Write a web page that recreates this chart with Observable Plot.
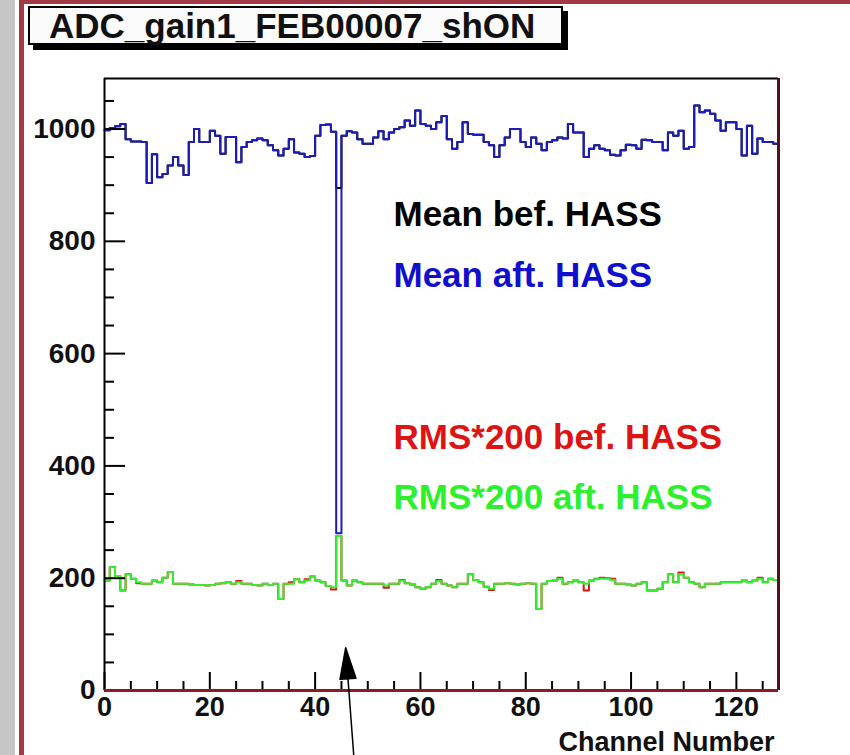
<!DOCTYPE html>
<html><head><meta charset="utf-8">
<script src="https://cdn.jsdelivr.net/npm/d3@7"></script>
<script src="https://cdn.jsdelivr.net/npm/@observablehq/plot@0.6"></script>
<style>
html,body{margin:0;padding:0;background:#fff;}
body{width:850px;height:755px;overflow:hidden;position:relative;font-family:"Liberation Sans",Arial,Helvetica,sans-serif;}
#strip{position:absolute;left:0;top:0;width:15px;height:755px;background:#c6c6c6;}
#vline{position:absolute;left:19px;top:0;width:5px;height:755px;background:#a23a46;}
#hline{position:absolute;left:19px;top:0;width:831px;height:4px;background:#a23a46;}
#chart{position:absolute;left:0;top:0;}
#title{position:absolute;left:28px;top:6px;width:535px;height:39px;box-sizing:border-box;border:2px solid #000;box-shadow:5px 5px 0 #000;background:#fbfbfb;font-weight:bold;font-size:35px;line-height:35px;padding-left:19px;color:#111;white-space:nowrap;}
</style>
</head>
<body>
<div id="strip"></div>
<div id="vline"></div>
<div id="hline"></div>
<div id="chart"></div>
<div id="title"></div>
<script>
const titleText = "ADC_gain1_FEB00007_shON";
const xAxisLabel = "Channel Number";
const xDomain = [0, 128];
const yDomain = [0, 1090];
const xTickLabels = [0, 20, 40, 60, 80, 100, 120];
const xMinorTicks = [5,10,15,25,30,35,45,50,55,65,70,75,85,90,95,105,110,115,125];
const yTickLabels = [0, 200, 400, 600, 800, 1000];
const yMinorTicks = [50,100,150,250,300,350,450,500,550,650,700,750,850,900,950,1050];
const legendLabels = ["Mean bef. HASS", "Mean aft. HASS", "RMS*200 bef. HASS", "RMS*200 aft. HASS"];
const legendColors = ["#000000", "#1010cc", "#dd1414", "#2cf02c"];
const lineColors = ["#000000", "#1c1cb8", "#dd1414", "#33ee33"];
// annotation arrow pointing at the bad channel (tip position, in data units)
const arrowTipChannel = [45.8];
const arrowTipValue = [76];

// Mean before HASS (per channel, 128 channels)
const meanBef = [998,1002,1005,1009,982,978,978,977,904,955,
914,920,935,950,935,918,977,1000,977,977,
997,988,956,986,986,941,968,977,980,983,
980,971,962,953,965,982,958,956,950,952,
988,1007,1008,995,895,988,996,994,982,974,
974,985,996,982,994,1000,1003,1015,1006,1033,
1009,1006,1000,1012,1023,982,965,977,1012,991,
990,990,977,971,950,971,985,1000,1000,977,
968,985,974,962,977,980,985,983,1009,994,
994,950,965,971,965,962,954,953,962,972,
971,965,981,980,977,977,962,994,988,997,
965,968,1042,1030,1033,1027,1015,997,1012,1012,
1000,953,1006,956,983,977,977,974];

// Mean after HASS
const meanAft = [998,1002,1005,1009,982,978,978,977,904,955,
914,920,935,950,935,918,977,1000,977,977,
997,988,956,986,986,941,968,977,980,983,
980,971,962,953,965,982,958,956,950,952,
988,1007,1008,995,280,988,996,994,982,974,
974,985,996,982,994,1000,1003,1015,1006,1033,
1009,1006,1000,1012,1023,982,965,977,1012,991,
990,990,977,971,950,971,985,1000,1000,977,
968,985,974,962,977,980,985,983,1009,994,
994,950,965,971,965,962,954,953,962,972,
971,965,981,980,977,977,962,994,988,997,
965,968,1042,1030,1033,1027,1015,997,1012,1012,
1000,953,1006,956,983,977,977,974];

// RMS*200 before HASS
const rmsBef = [196,220,204,178,207,199,191,190,190,196,
193,201,211,190,190,190,189,188,188,187,
188,190,191,193,190,195,190,190,188,187,
190,188,190,163,190,193,198,193,198,203,
196,193,186,180,275,196,187,196,193,190,
190,190,190,183,190,190,197,191,189,184,
181,184,190,197,190,187,184,190,190,207,
197,193,185,179,190,190,191,190,189,190,
191,190,145,190,195,196,201,190,193,196,
193,178,196,199,201,200,199,190,190,189,
187,190,193,178,178,181,193,207,193,210,
201,193,190,184,190,190,190,193,193,193,
193,196,193,196,201,193,199,197];

// RMS*200 after HASS
const rmsAft = [196,220,204,178,207,199,193,190,190,196,
193,201,211,190,190,190,189,188,188,187,
188,190,191,193,190,193,190,190,188,187,
190,188,190,163,190,190,198,193,196,203,
196,193,186,184,275,196,187,196,193,190,
190,190,190,187,190,190,196,191,189,184,
181,184,190,195,190,187,184,190,190,207,
197,193,185,181,190,190,191,190,189,190,
191,190,145,190,195,196,199,190,193,196,
193,190,196,199,199,199,197,190,190,189,
187,190,193,178,178,181,193,207,193,207,
201,193,190,184,190,190,190,193,193,193,
193,196,193,196,199,193,199,197];

document.getElementById("title").textContent = titleText;

function steps(values) {
  const rows = values.map((v, i) => ({channel: i, value: v}));
  rows.push({channel: values.length, value: values[values.length - 1]});
  return rows;
}

const W = 850, H = 755, mL = 104, mR = 72, mT = 78, mB = 65;
const plotW = W - mL - mR, plotH = H - mT - mB;
const series = [meanBef, meanAft, rmsBef, rmsAft];
const legendDy = [123, 184, 346, 406];

const arrowShape = {
  draw(context, l) {
    const head = 31, half = 8;
    context.moveTo(0, 0);
    context.lineTo(0, -l + head - 2);
    context.moveTo(0, -l);
    context.lineTo(-half, -l + head);
    context.lineTo(half, -l + head);
    context.closePath();
  }
};

const chart = Plot.plot({
  width: W, height: H,
  marginLeft: mL, marginRight: mR, marginTop: mT, marginBottom: mB,
  x: {domain: xDomain},
  y: {domain: yDomain},
  style: {background: "transparent", overflow: "visible", fontFamily: "'Liberation Sans', Arial, Helvetica, sans-serif"},
  marks: [
    ...series.map((s, k) => Plot.line(steps(s), {x: "channel", y: "value", curve: "step-after", stroke: lineColors[k], strokeWidth: 2})),
    Plot.tickY(yTickLabels, {y: d => d, insetRight: plotW - 21, stroke: "#000", strokeWidth: 2}),
    Plot.tickY(yMinorTicks, {y: d => d, insetRight: plotW - 10, stroke: "#000", strokeWidth: 2}),
    Plot.tickX(xTickLabels, {x: d => d, insetTop: plotH - 18, stroke: "#000", strokeWidth: 2}),
    Plot.tickX(xMinorTicks, {x: d => d, insetTop: plotH - 9, stroke: "#000", strokeWidth: 2}),
    Plot.ruleY([yDomain[1]], {stroke: "#000", strokeWidth: 2}),
    Plot.ruleX([xDomain[0]], {stroke: "#000", strokeWidth: 2}),
    Plot.ruleX([xDomain[1]], {stroke: "#5a0d1c", strokeWidth: 3}),
    Plot.ruleY([yDomain[0]], {stroke: "#8b1c24", strokeWidth: 3}),
    Plot.axisY(yTickLabels, {tickSize: 0, tickPadding: 9, tickFormat: d => String(d), fontSize: 28, fontWeight: "bold", fill: "#111", label: null}),
    Plot.axisX(xTickLabels, {tickSize: 0, tickPadding: 6, tickFormat: d => String(d), fontSize: 27, fontWeight: "bold", fill: "#111", label: null}),
    Plot.text([xAxisLabel], {text: d => d, frameAnchor: "bottom-right", dx: -4, dy: 60, textAnchor: "end", fontSize: 27, fontWeight: "bold", fill: "#111"}),
    ...legendLabels.map((t, k) => Plot.text([t], {text: d => d, frameAnchor: "top-left", dx: 289, dy: legendDy[k], textAnchor: "start", fontSize: 35, fontWeight: "bold", fill: legendColors[k]})),
    Plot.vector(arrowTipChannel, {x: d => d, y: (d, i) => arrowTipValue[i], length: 115, rotate: -4.3, anchor: "end", shape: arrowShape, stroke: "#000", fill: "#000", strokeWidth: 1.5})
  ]
});
document.getElementById("chart").appendChild(chart);
</script>
</body></html>
